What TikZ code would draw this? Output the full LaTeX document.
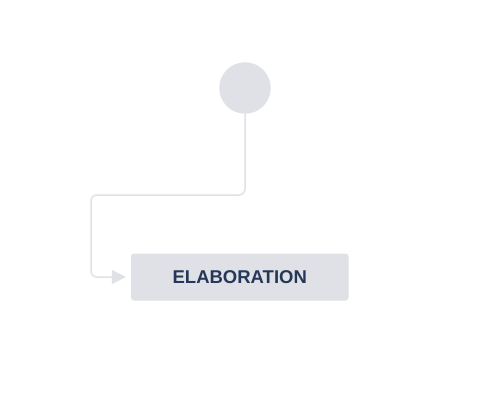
\documentclass[tikz,border=0pt]{standalone}
\usepackage{fontspec}
\setmainfont{Liberation Sans}
\usetikzlibrary{arrows.meta}
\usetikzlibrary{positioning}

\definecolor{jiragray}{HTML}{DFE1E6}
\definecolor{jiranavy}{HTML}{253858}

\begin{document}
\begin{tikzpicture}[x=1pt,y=-1pt,
        statebox/.style={fill=jiragray,rounded corners=3pt,minimum width=217.5pt,minimum height=47pt,inner sep=0pt,text=jiranavy,font=\fontsize{18.5}{20}\selectfont\bfseries},
        flow/.style={draw=jiragray,line width=1.5pt,rounded corners=6pt,-{Triangle[length=14pt,width=14pt]},shorten >=5pt}]
        \useasboundingbox (0,0) rectangle (486,400);

        \node [circle,fill=jiragray,minimum size=51.5pt,inner sep=0pt] (start) at (245,88) {};
        \node [statebox] (elab) at (239.75,277) {ELABORATION};

        \coordinate (bend) at (91,195);
        \draw [flow] (start.south) |- (bend) |- (elab.west);
    \end{tikzpicture}
\end{document}
